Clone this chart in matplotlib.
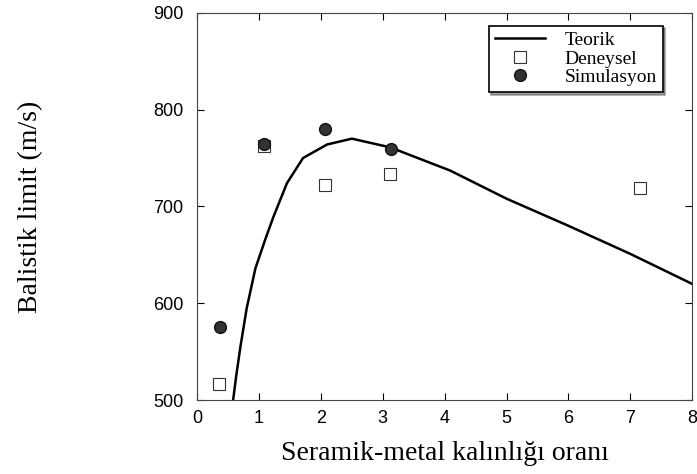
import matplotlib
matplotlib.use('Agg')
import matplotlib.pyplot as plt

# theoretical curve
teorik_x = [0.58, 0.63, 0.7, 0.8, 0.94, 1.1, 1.23, 1.45, 1.71, 2.1, 2.5, 3.12, 4.09, 5.0, 6.0, 7.0, 8.0]
teorik_y = [500, 525, 556, 595, 636, 666, 689, 724, 750, 764, 770, 761, 737, 708, 680, 651, 620]

# experimental points
deney_x = [0.35, 1.08, 2.07, 3.12, 7.15]
deney_y = [517, 762, 722, 734, 719]

# simulation points
sim_x = [0.37, 1.08, 2.07, 3.13]
sim_y = [575, 764, 780, 759]

fig = plt.figure(figsize=(6.97, 4.74), dpi=100)
ax = fig.add_axes([0.283, 0.156, 0.710, 0.817])

ax.plot(teorik_x, teorik_y, color='black', lw=1.8, label='Teorik')
ax.plot(deney_x, deney_y, ls='none', marker='s', ms=8, mfc='white', mec='#333333',
        mew=0.8, label='Deneysel')
ax.plot(sim_x, sim_y, ls='none', marker='o', ms=8.5, mfc='#333333', mec='#111111',
        label='Simulasyon')

ax.set_xlim(0, 8)
ax.set_ylim(500, 900)
ax.set_xticks(range(0, 9))
ax.set_yticks([500, 600, 700, 800, 900])
ax.tick_params(direction='in', top=True, right=True, length=5, width=0.8,
               labelsize=13)
ax.tick_params(axis='y', pad=10)
ax.tick_params(axis='x', pad=7)
for lab in ax.get_xticklabels() + ax.get_yticklabels():
    lab.set_fontfamily('Liberation Sans')
for s in ax.spines.values():
    s.set_linewidth(0.8)
    s.set_color('#444444')

ax.set_xlabel('Seramik-metal kalınlığı oranı', family='Liberation Serif', fontsize=20, labelpad=10)
ax.set_ylabel('Balistik limit (m/s)', family='Liberation Serif', fontsize=20, labelpad=79)

leg = ax.legend(loc='upper right', bbox_to_anchor=(0.960, 0.992), frameon=True,
                fancybox=False, shadow=True, prop={'family': 'Liberation Serif', 'size': 14},
                handlelength=2.6, borderpad=0.3, labelspacing=0.05, handletextpad=1.0)
leg.get_frame().set_edgecolor('black')
leg.get_frame().set_linewidth(1.2)

plt.savefig('out.png', dpi=100, facecolor='white')
